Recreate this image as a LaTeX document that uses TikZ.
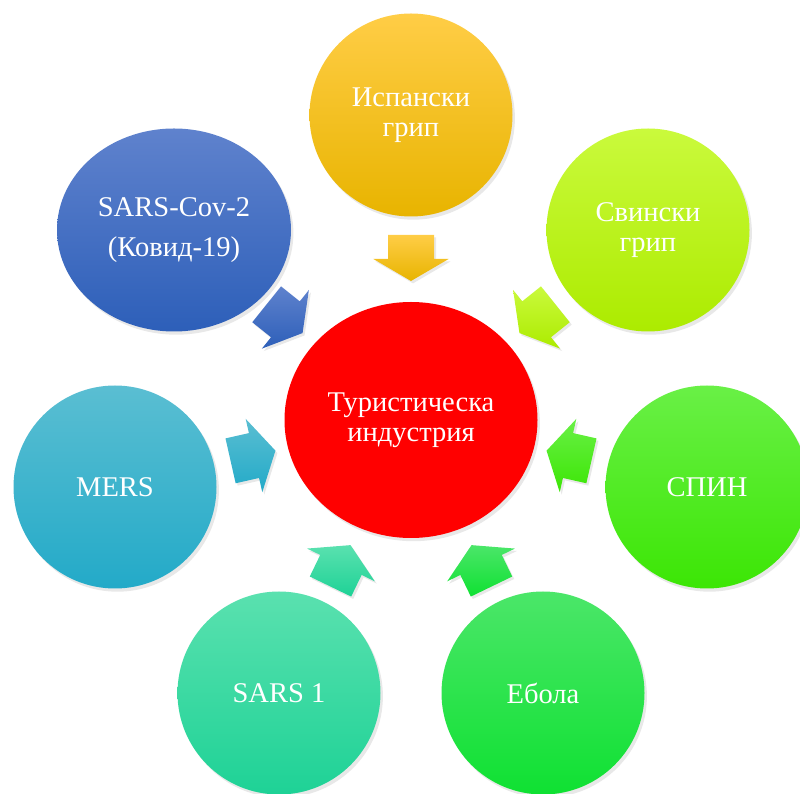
\documentclass[tikz,border=0pt]{standalone}
\usepackage{fontspec}
\setmainfont{Liberation Serif}
\usetikzlibrary{shapes.geometric,calc,shadows}

\definecolor{spainT}{RGB}{255,205,70}
\definecolor{spainB}{RGB}{232,180,0}
\definecolor{swineT}{RGB}{202,250,60}
\definecolor{swineB}{RGB}{172,235,0}
\definecolor{aidsT}{RGB}{105,240,70}
\definecolor{aidsB}{RGB}{60,230,5}
\definecolor{ebolaT}{RGB}{75,230,105}
\definecolor{ebolaB}{RGB}{15,225,50}
\definecolor{sarsT}{RGB}{90,225,175}
\definecolor{sarsB}{RGB}{30,210,150}
\definecolor{mersT}{RGB}{90,190,210}
\definecolor{mersB}{RGB}{35,170,200}
\definecolor{covT}{RGB}{95,130,205}
\definecolor{covB}{RGB}{45,95,185}

\begin{document}
\begin{tikzpicture}[
  disease/.style={ellipse, inner sep=0pt, minimum width=5.075cm, minimum height=5.075cm,
    align=center, text=white, font=\fontsize{20.3}{21.6}\selectfont,
    drop shadow={opacity=0.18, shadow xshift=0.06cm, shadow yshift=-0.08cm}},
  blockarr/.style={drop shadow={opacity=0.18, shadow xshift=0.05cm, shadow yshift=-0.06cm}}]
  \useasboundingbox (0,0) rectangle (20,19.825);
  \node[disease, fill=red, minimum width=6.325cm, minimum height=5.9cm] (tour) at (10.275,9.325) {Туристическа\\индустрия};
  \node[disease, top color=spainT, bottom color=spainB] (spain) at (10.275,16.95) {Испански\\грип};
  \node[disease, top color=swineT, bottom color=swineB] (swine) at (16.2,14.075) {Свински\\грип};
  \node[disease, top color=aidsT, bottom color=aidsB] (aids) at (17.675,7.65) {СПИН};
  \node[disease, top color=ebolaT, bottom color=ebolaB] (ebola) at (13.575,2.5) {Ебола};
  \node[disease, top color=sarsT, bottom color=sarsB] (sars) at (6.975,2.5) {SARS 1};
  \node[disease, top color=mersT, bottom color=mersB] (mers) at (2.875,7.65) {MERS};
  \node[disease, top color=covT, bottom color=covB, minimum width=5.85cm] (covid) at (4.35,14.075) {SARS-Cov-2\\[0.25cm](Ковид-19)};
  \foreach \src/\ang/\col in {spain/270/spain, swine/218.7/swine, aids/167.25/aids, ebola/115.8/ebola,
      sars/64.2/sars, mers/12.75/mers, covid/-38.7/cov}
    \path[blockarr, top color=\col T, bottom color=\col B, shift={($(tour.center)!4.05cm!(\src.center)$)}, rotate=\ang]
      (-0.575,-0.575) -- (0.025,-0.575) -- (0.025,-0.94) -- (0.575,0) -- (0.025,0.94) -- (0.025,0.575) -- (-0.575,0.575) -- cycle;
\end{tikzpicture}
\end{document}
